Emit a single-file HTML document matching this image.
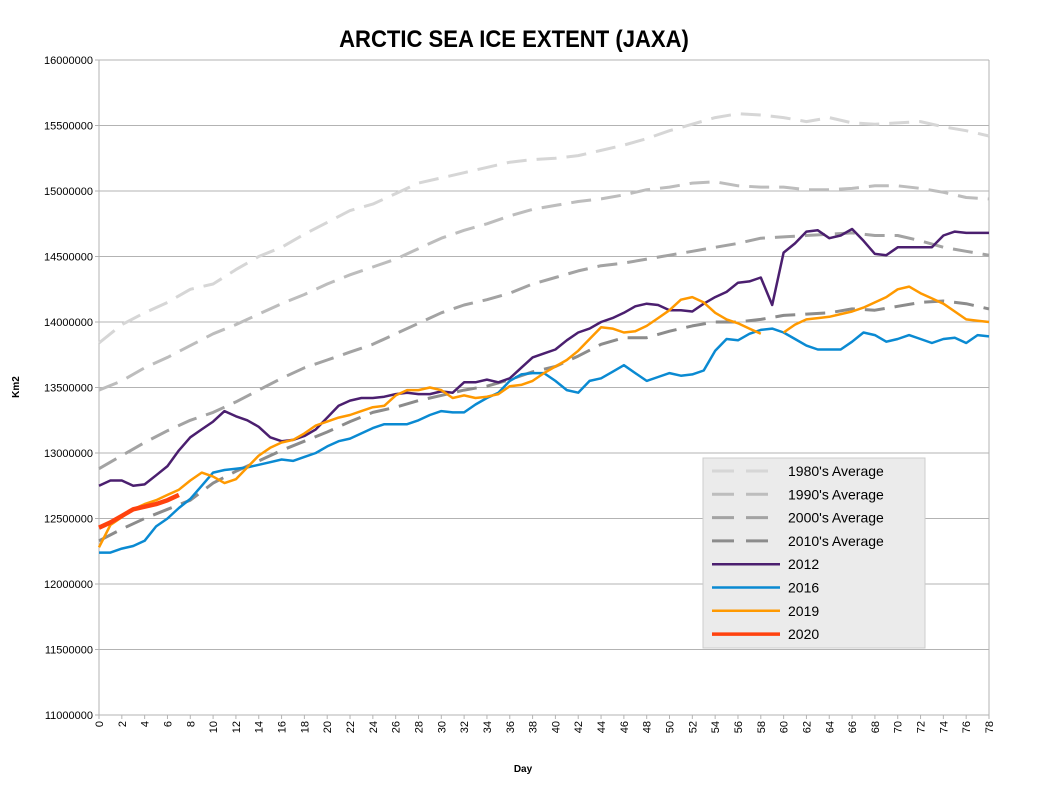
<!DOCTYPE html>
<html><head><meta charset="utf-8"><style>
body{margin:0;background:#fff;width:1038px;height:780px;overflow:hidden;font-family:"Liberation Sans",sans-serif}
</style></head><body>
<svg id="chart" width="1038" height="780" xmlns="http://www.w3.org/2000/svg">
<text x="514" y="47" text-anchor="middle" font-family="Liberation Sans, sans-serif" font-size="24" font-weight="bold" transform="translate(514,0) scale(0.92,1) translate(-514,0)">ARCTIC SEA ICE EXTENT (JAXA)</text>
<g id="grid"></g><g id="axes"></g><g id="series"></g><g id="legend"></g>
<text x="0" y="0" font-size="10" font-weight="bold" text-anchor="middle" transform="translate(19,387) rotate(-90)">Km2</text>
<text x="523" y="772" font-size="10" font-weight="bold" text-anchor="middle">Day</text>
</svg>
<script>
const days = Array.from({length:79},(_,i)=>i);
const avgDays = [0,2,4,6,8,10,12,14,16,18,20,22,24,26,28,30,32,34,36,38,40,42,44,46,48,50,52,54,56,58,60,62,64,66,68,70,72,74,76,78];
const avg1980 = [13.84,13.98,14.07,14.15,14.25,14.29,14.40,14.50,14.57,14.67,14.76,14.85,14.90,14.98,15.06,15.10,15.14,15.18,15.22,15.24,15.25,15.27,15.31,15.35,15.40,15.46,15.51,15.56,15.59,15.58,15.56,15.53,15.56,15.52,15.51,15.52,15.53,15.49,15.46,15.42];
const avg1990 = [13.48,13.55,13.65,13.73,13.82,13.91,13.98,14.06,14.14,14.21,14.29,14.36,14.42,14.48,14.56,14.64,14.70,14.75,14.81,14.86,14.89,14.92,14.94,14.97,15.01,15.03,15.06,15.07,15.04,15.03,15.03,15.01,15.01,15.02,15.04,15.04,15.02,14.99,14.95,14.94];
const avg2000 = [12.88,12.98,13.08,13.17,13.25,13.31,13.39,13.48,13.57,13.65,13.71,13.77,13.83,13.91,13.99,14.07,14.13,14.17,14.22,14.29,14.34,14.39,14.43,14.45,14.48,14.51,14.54,14.57,14.60,14.64,14.65,14.66,14.67,14.68,14.66,14.66,14.62,14.57,14.54,14.51];
const avg2010 = [12.33,12.42,12.50,12.57,12.64,12.77,12.86,12.94,13.02,13.09,13.16,13.24,13.31,13.35,13.40,13.44,13.48,13.51,13.56,13.62,13.66,13.74,13.83,13.88,13.88,13.93,13.97,14.00,14.00,14.02,14.05,14.06,14.07,14.10,14.09,14.12,14.15,14.16,14.14,14.10];
const y2012 = [12.75,12.79,12.79,12.75,12.76,12.83,12.90,13.02,13.12,13.18,13.24,13.32,13.28,13.25,13.20,13.12,13.09,13.10,13.13,13.18,13.27,13.36,13.40,13.42,13.42,13.43,13.45,13.46,13.45,13.45,13.47,13.46,13.54,13.54,13.56,13.54,13.57,13.65,13.73,13.76,13.79,13.86,13.92,13.95,14.00,14.03,14.07,14.12,14.14,14.13,14.09,14.09,14.08,14.14,14.19,14.23,14.30,14.31,14.34,14.13,14.53,14.60,14.69,14.70,14.64,14.66,14.71,14.62,14.52,14.51,14.57,14.57,14.57,14.57,14.66,14.69,14.68,14.68,14.68];
const y2016 = [12.24,12.24,12.27,12.29,12.33,12.44,12.50,12.58,12.65,12.75,12.85,12.87,12.88,12.89,12.91,12.93,12.95,12.94,12.97,13.00,13.05,13.09,13.11,13.15,13.19,13.22,13.22,13.22,13.25,13.29,13.32,13.31,13.31,13.37,13.42,13.46,13.55,13.60,13.61,13.61,13.55,13.48,13.46,13.55,13.57,13.62,13.67,13.61,13.55,13.58,13.61,13.59,13.60,13.63,13.78,13.87,13.86,13.91,13.94,13.95,13.92,13.87,13.82,13.79,13.79,13.79,13.85,13.92,13.90,13.85,13.87,13.90,13.87,13.84,13.87,13.88,13.84,13.90,13.89];
const y2019 = [12.28,12.45,12.51,12.57,12.61,12.64,12.68,12.72,12.79,12.85,12.82,12.77,12.80,12.89,12.98,13.04,13.08,13.10,13.15,13.21,13.24,13.27,13.29,13.32,13.35,13.36,13.44,13.48,13.48,13.50,13.48,13.42,13.44,13.42,13.43,13.45,13.51,13.52,13.55,13.61,13.66,13.71,13.78,13.87,13.96,13.95,13.92,13.93,13.97,14.03,14.09,14.17,14.19,14.15,14.07,14.02,13.99,13.95,13.91,null,13.92,13.98,14.02,14.03,14.04,14.06,14.08,14.11,14.15,14.19,14.25,14.27,14.22,14.18,14.14,14.08,14.02,14.01,14.00];
const y2020 = [12.43,12.47,12.52,12.57,12.59,12.61,12.64,12.68];
const yTicks = [11000000,11500000,12000000,12500000,13000000,13500000,14000000,14500000,15000000,15500000,16000000];
const xTicks = [0,2,4,6,8,10,12,14,16,18,20,22,24,26,28,30,32,34,36,38,40,42,44,46,48,50,52,54,56,58,60,62,64,66,68,70,72,74,76,78];

const NS='http://www.w3.org/2000/svg';
const X0=99,X1=989,Y0=715,Y1=60;
const sx=d=>X0+(d-0)/78*(X1-X0);
const sy=v=>Y0-(v-11000000)/5000000*(Y0-Y1);
function mk(tag,parent,attrs){const e=document.createElementNS(NS,tag);for(const k in attrs)e.setAttribute(k,attrs[k]);parent.appendChild(e);return e;}
const grid=document.getElementById('grid'),axes=document.getElementById('axes'),ser=document.getElementById('series'),leg=document.getElementById('legend');
yTicks.forEach(t=>{
  const l=mk('line',grid,{x1:X0-4,x2:X1,y1:sy(t),y2:sy(t),stroke:'#b3b3b3','stroke-width':1});
  
  
  const tx=mk('text',axes,{x:93,y:sy(t)+4,'text-anchor':'end','font-size':11});
  tx.textContent=t;
  
  
});
const ax=mk('line',axes,{x1:X0,x2:X0,y1:Y1,y2:Y0+4,stroke:'#b3b3b3'});


const rb=mk('line',axes,{x1:X1,x2:X1,y1:Y1,y2:Y0,stroke:'#b3b3b3'});


xTicks.forEach(d=>{
  const tk=mk('line',axes,{x1:sx(d),x2:sx(d),y1:Y0,y2:Y0+4,stroke:'#b3b3b3'});
  
  
  const tx=mk('text',axes,{x:0,y:0,'text-anchor':'end','font-size':11,transform:`translate(${sx(d)+4},${Y0+6}) rotate(-90)`});
  tx.textContent=d;
  
  
});
function path(xs,vals,scale){let d='',pen=false;vals.forEach((v,i)=>{if(v===null){pen=false;return;}d+=(pen?'L':'M')+sx(xs[i]).toFixed(1)+' '+sy(v*scale).toFixed(1);pen=true;});return d;}
const series=[
 {name:'1980\'s Average',xs:avgDays,v:avg1980,c:'#d6d6d6',w:3,dash:'20 10'},
 {name:'1990\'s Average',xs:avgDays,v:avg1990,c:'#bdbdbd',w:3,dash:'20 10'},
 {name:'2000\'s Average',xs:avgDays,v:avg2000,c:'#a3a3a3',w:3,dash:'20 10'},
 {name:'2010\'s Average',xs:avgDays,v:avg2010,c:'#8c8c8c',w:3,dash:'20 10'},
 {name:'2012',xs:days,v:y2012,c:'#4b1f6f',w:2.5},
 {name:'2016',xs:days,v:y2016,c:'#0a8ad2',w:2.5},
 {name:'2019',xs:days,v:y2019,c:'#ff9900',w:2.5},
 {name:'2020',xs:days,v:y2020,c:'#ff420e',w:4.5}
];
series.forEach(s=>{
  const p=mk('path',ser,{d:path(s.xs,s.v,1000000),fill:'none',stroke:s.c,'stroke-width':s.w,'stroke-linejoin':'round'});
  if(s.dash)p.setAttribute('stroke-dasharray',s.dash);
  
  
});
const box=mk('rect',leg,{x:703,y:458,width:222,height:190,fill:'#ebebeb',stroke:'#cccccc'});


series.forEach((s,i)=>{
  const y=471+i*23.3;
  const l=mk('line',leg,{x1:712,x2:780,y1:y,y2:y,stroke:s.c,'stroke-width':s.w>3?3.5:s.w});
  if(s.dash)l.setAttribute('stroke-dasharray','22 12');
  
  
  const t=mk('text',leg,{x:788,y:y+5,'font-size':14});
  t.textContent=s.name;
  
  
});
</script>
</body></html>
